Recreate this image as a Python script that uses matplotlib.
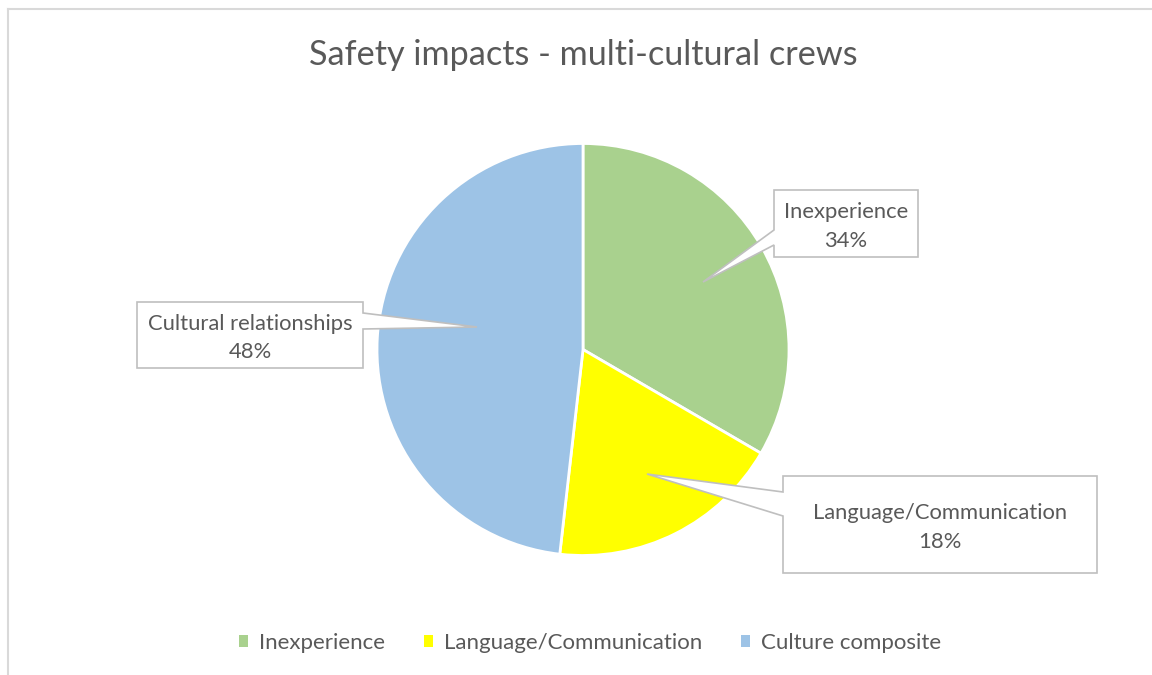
import matplotlib
matplotlib.use("Agg")
import matplotlib.pyplot as plt
from matplotlib.patches import Polygon, Patch
from matplotlib.lines import Line2D

# data
categories = ["Inexperience", "Language/Communication", "Culture composite"]
values = [33.4, 18.4, 48.2]
label_names = ["Inexperience", "Language/Communication", "Cultural relationships"]
pct_labels = ["34%", "18%", "48%"]
colors = ["#A9D18E", "#FFFF00", "#9DC3E6"]

W, H = 1152, 675
TEXT = "#595959"
plt.rcParams["font.family"] = ["Lato", "DejaVu Sans"]


def py(y):
    # pixel row (top-down) -> data y (bottom-up)
    return H - y


fig = plt.figure(figsize=(W / 100, H / 100), dpi=100)
ax = fig.add_axes([0, 0, 1, 1])

cx, cy, r = 583, 349.5, 206
ax.pie(values, colors=colors, startangle=90, counterclock=False,
       center=(cx, py(cy)), radius=r,
       wedgeprops=dict(edgecolor="white", linewidth=2))
ax.set_xlim(0, W)
ax.set_ylim(0, H)
ax.set_aspect("equal")
ax.axis("off")

# callout boxes: box (x0, y0, x1, y1), side, attach span, tip -- pixel layout
callouts = [
    ((774, 190, 918, 257), "left", (230, 245), (703, 282)),
    ((783, 476, 1097, 573), "left", (492, 516), (647, 474)),
    ((137, 302, 363, 368), "right", (313, 329), (477, 327)),
]

for i, (box, side, (a0, a1), tip) in enumerate(callouts):
    x0, y0, x1, y1 = box
    if side == "left":
        pts = [(x0, y0), (x1, y0), (x1, y1), (x0, y1), (x0, a1), tip, (x0, a0)]
    else:
        pts = [(x0, y0), (x1, y0), (x1, a0), tip, (x1, a1), (x1, y1), (x0, y1)]
    pts = [(x, py(y)) for x, y in pts]
    ax.add_patch(Polygon(pts, closed=True, facecolor="white",
                         edgecolor="#BFBFBF", linewidth=1.2, zorder=5))
    xc = (x0 + x1) / 2
    yc = (y0 + y1) / 2 + 3
    ax.text(xc, py(yc), label_names[i] + "\n" + pct_labels[i],
            ha="center", va="center", fontsize=15.8, color=TEXT,
            linespacing=1.55, zorder=6)

# title
fig.text(cx / W, 1 - 55 / H, "Safety impacts - multi-cultural crews",
         ha="center", va="center", fontsize=24.7, color=TEXT)

# legend
handles = [Patch(facecolor=c, edgecolor="none") for c in colors]
fig.legend(handles, categories, loc="center", bbox_to_anchor=(590 / W, 1 - 643 / H),
           ncol=3, frameon=False, fontsize=16, handlelength=0.4, handleheight=0.4,
           handletextpad=0.5, columnspacing=1.75, labelcolor=TEXT)

# chart area border (left + top visible)
fig.add_artist(Line2D([7.5 / W, 7.5 / W], [0, 1 - 9 / H], color="#D9D9D9", linewidth=1.5))
fig.add_artist(Line2D([7.5 / W, 1], [1 - 9 / H, 1 - 9 / H], color="#D9D9D9", linewidth=1.5))

fig.savefig("out.png", dpi=100)
